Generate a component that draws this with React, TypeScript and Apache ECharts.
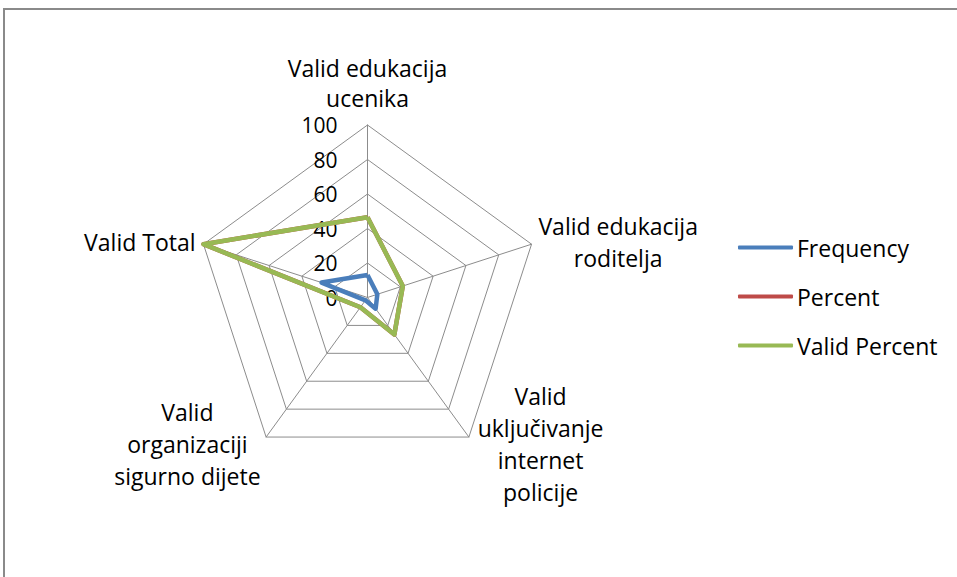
import React, { useEffect, useRef } from "react";
import * as echarts from "echarts";

const categories = [
  "Valid edukacija\nucenika",
  "Valid edukacija\nroditelja",
  "Valid\nuključivanje\ninternet\npolicije",
  "Valid\norganizaciji\nsigurno dijete",
  "Valid Total",
];
const seriesNames = ["Frequency", "Percent", "Valid Percent"];
const frequency = [13, 6, 8, 2, 28];
const percent = [46.5, 21.5, 26.5, 7, 100];
const validPercent = [46.5, 21.5, 26.5, 7, 100];
const colors = ["#4A7EBB", "#BE4B48", "#98B954"];

// ECharts draws radar indicators counter-clockwise; reorder so they run clockwise
const order = [0, 4, 3, 2, 1];
const nameWidths = [170, 158, 134, 148, 112];
const nameLineHeights = [30, 32, 32, 32, 32];
const namePaddings = [
  [0, 0, 5, 0],
  [0, 0, 0, 0],
  [0, 0, 0, 0],
  [0, 0, 0, 0],
  [0, 0, 0, 0],
];

const FONT = "'Open Sans', 'Noto Sans', sans-serif";
const FS = 23;

export default function App() {
  const ref = useRef<HTMLDivElement>(null);
  useEffect(() => {
    if (!ref.current) return;
    const chart = echarts.init(ref.current, null, { renderer: "svg" });
    const rich: Record<string, any> = {};
    order.forEach((ci, k) => {
      rich["n" + k] = {
        width: nameWidths[ci],
        align: "center",
        lineHeight: nameLineHeights[ci],
        padding: namePaddings[ci],
        fontSize: FS,
        fontFamily: FONT,
        color: "#000",
      };
    });
    const indicator = order.map((ci, k) => {
      const ind: any = { name: categories[ci], max: 100, min: 0 };
      if (k === 0) {
        ind.axisLabel = {
          show: true,
          color: "#000",
          fontSize: 21,
          fontFamily: FONT,
          margin: 30,
        };
      }
      return ind;
    });
    const pick = (arr: number[]) => order.map((ci) => arr[ci]);
    chart.setOption({
      animation: false,
      backgroundColor: "#fff",
      color: colors,
      graphic: [
        {
          type: "rect",
          shape: { x: 4, y: 9, width: 1200, height: 1000 },
          style: { fill: "none", stroke: "#8a8a8a", lineWidth: 2 },
          silent: true,
        },
      ],
      legend: {
        orient: "vertical",
        left: 738,
        top: 234,
        padding: 0,
        itemWidth: 55,
        itemHeight: 4,
        itemGap: 22,
        icon: "roundRect",
        data: seriesNames,
        textStyle: {
          color: "#000",
          fontSize: FS,
          fontFamily: FONT,
          lineHeight: 27,
          padding: [0, 0, 0, -1],
        },
      },
      radar: {
        center: [367.5, 297.5],
        radius: 172.5,
        startAngle: 90,
        splitNumber: 5,
        shape: "polygon",
        nameGap: 8,
        axisName: {
          color: "#000",
          fontSize: FS,
          fontFamily: FONT,
          formatter: (value: string) => {
            const k = indicator.findIndex((d: any) => d.name === value);
            return "{n" + k + "|" + value + "}";
          },
          rich,
        },
        axisLine: { lineStyle: { color: "#8C8C8C", width: 1 } },
        splitLine: { lineStyle: { color: "#8C8C8C", width: 1 } },
        splitArea: { show: false },
        axisTick: { show: false },
        axisLabel: { show: false },
        indicator,
      },
      series: [
        {
          type: "radar",
          symbol: "none",
          data: [
            { name: seriesNames[0], value: pick(frequency), lineStyle: { width: 4.5, color: colors[0] }, itemStyle: { color: colors[0] } },
            { name: seriesNames[1], value: pick(percent), lineStyle: { width: 4.5, color: colors[1] }, itemStyle: { color: colors[1] } },
            { name: seriesNames[2], value: pick(validPercent), lineStyle: { width: 4.5, color: colors[2] }, itemStyle: { color: colors[2] } },
          ],
        },
      ],
    });
    return () => chart.dispose();
  }, []);
  return (
    <div
      ref={ref}
      style={{ position: "fixed", left: 0, top: 0, width: 957, height: 577 }}
    />
  );
}
